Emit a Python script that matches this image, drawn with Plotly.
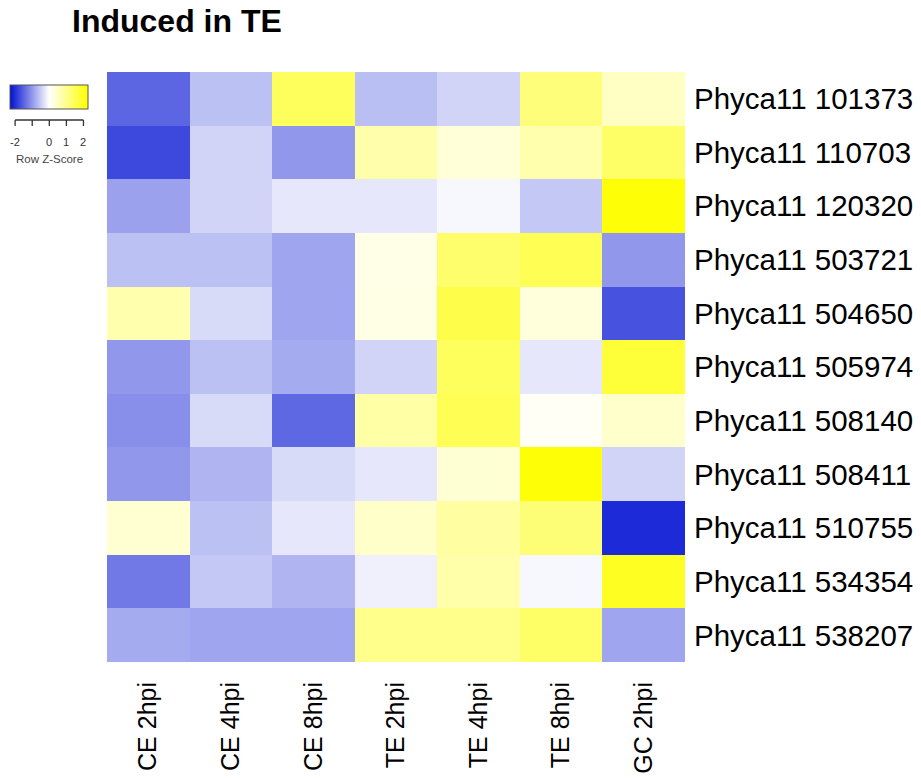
import plotly.graph_objects as go

# Heatmap of row-scaled expression (Row Z-Score) for genes induced in TE
conditions = ["CE 2hpi", "CE 4hpi", "CE 8hpi", "TE 2hpi", "TE 4hpi", "TE 8hpi", "GC 2hpi"]
genes = [
    "Phyca11 101373", "Phyca11 110703", "Phyca11 120320", "Phyca11 503721",
    "Phyca11 504650", "Phyca11 505974", "Phyca11 508140", "Phyca11 508411",
    "Phyca11 510755", "Phyca11 534354", "Phyca11 538207",
]
z_scores = [
    [-1.47, -0.60, 1.47, -0.62, -0.41, 1.20, 0.53],
    [-1.75, -0.41, -0.99, 0.76, 0.35, 0.74, 1.38],
    [-0.90, -0.41, -0.23, -0.23, -0.07, -0.53, 2.25],
    [-0.60, -0.60, -0.87, 0.21, 1.33, 1.54, -0.99],
    [0.74, -0.35, -0.87, 0.23, 1.63, 0.32, -1.66],
    [-0.99, -0.60, -0.81, -0.41, 1.47, -0.23, 1.79],
    [-1.08, -0.35, -1.45, 0.81, 1.54, 0.09, 0.46],
    [-0.99, -0.71, -0.35, -0.23, 0.39, 2.25, -0.41],
    [0.41, -0.60, -0.23, 0.48, 0.85, 1.24, -2.05],
    [-1.29, -0.53, -0.71, -0.14, 0.78, -0.07, 1.98],
    [-0.81, -0.87, -0.87, 1.04, 1.04, 1.38, -0.87],
]
key_ticks = [-2, -1, 0, 1, 2]
key_labels = ["-2", "", "0", "1", "2"]
z_limit = 2.3

W, H = 921, 778
L, R, T, B = 107, 236, 72, 116
FONT = "Liberation Sans, Arial, sans-serif"


def px_x(px):
    return (px - L) / (W - L - R)


def px_y(py):
    return (H - B - py) / (H - T - B)


fig = go.Figure(
    go.Heatmap(
        z=z_scores,
        x=conditions,
        y=genes,
        zmin=-z_limit,
        zmax=z_limit,
        colorscale=[[0, "rgb(0,16,210)"], [0.5, "rgb(255,255,255)"], [1, "rgb(254,254,0)"]],
        colorbar=dict(
            orientation="h",
            xanchor="left",
            x=px_x(10),
            yanchor="top",
            y=px_y(85),
            lenmode="pixels",
            len=78,
            thickness=24,
            thicknessmode="pixels",
            xpad=0,
            ypad=0,
            outlinewidth=1,
            outlinecolor="#555555",
            ticks="",
            showticklabels=False,
        ),
        hovertemplate="%{y}<br>%{x}<br>z = %{z}<extra></extra>",
    )
)

# Colour key axis: baseline, tick marks and labels below the bar
bar_left, bar_right = 10, 88.6
unit = (bar_right - bar_left) / (2 * z_limit)
zero_px = (bar_left + bar_right) / 2
shapes = [
    dict(type="line", xref="paper", yref="paper",
         x0=px_x(zero_px + key_ticks[0] * unit), x1=px_x(zero_px + key_ticks[-1] * unit),
         y0=px_y(120), y1=px_y(120), line=dict(color="#333333", width=1.3))
]
annotations = []
for v, lab in zip(key_ticks, key_labels):
    xp = px_x(zero_px + v * unit)
    shapes.append(dict(type="line", xref="paper", yref="paper", x0=xp, x1=xp,
                       y0=px_y(120), y1=px_y(126), line=dict(color="#333333", width=1.3)))
    if lab:
        annotations.append(dict(text=lab, xref="paper", yref="paper", x=xp, y=px_y(142),
                                xanchor="center", yanchor="middle", showarrow=False,
                                font=dict(family=FONT, size=11, color="#333333")))
annotations.append(dict(text="Row Z-Score", xref="paper", yref="paper",
                        x=px_x(zero_px), y=px_y(159), xanchor="center", yanchor="middle",
                        showarrow=False, font=dict(family=FONT, size=11.5, color="#444444")))

fig.update_layout(
    width=W,
    height=H,
    margin=dict(l=L, r=R, t=T, b=B, autoexpand=False),
    paper_bgcolor="white",
    plot_bgcolor="white",
    title=dict(
        text="<b>Induced in TE</b>",
        x=72 / W,
        xanchor="left",
        xref="container",
        y=1 - 21 / H,
        yanchor="middle",
        yref="container",
        font=dict(family=FONT, size=32, color="black"),
    ),
    xaxis=dict(
        tickangle=-90,
        tickfont=dict(family=FONT, size=25, color="black"),
        ticks="",
        ticklabelstandoff=14,
        showgrid=False,
        zeroline=False,
        showline=False,
    ),
    yaxis=dict(
        side="right",
        autorange="reversed",
        tickfont=dict(family=FONT, size=29.5, color="black"),
        ticks="",
        ticklabelstandoff=8,
        showgrid=False,
        zeroline=False,
        showline=False,
    ),
    shapes=shapes,
    annotations=annotations,
)

fig.write_html("out.html")
